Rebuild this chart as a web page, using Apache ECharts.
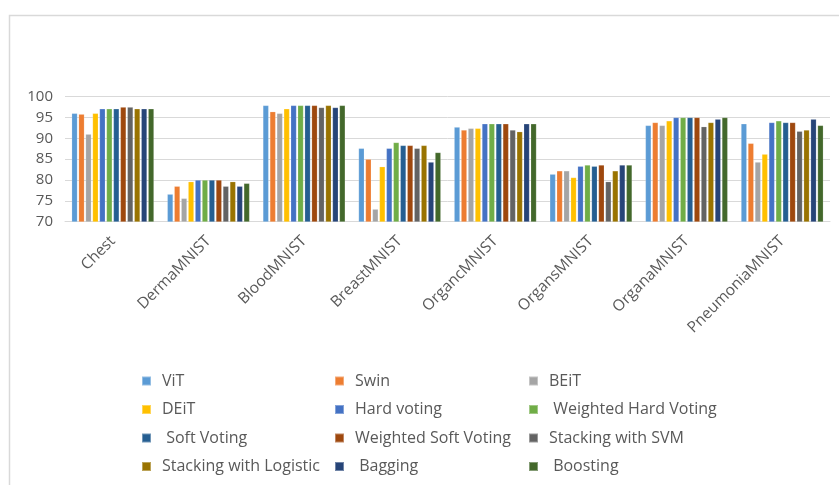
<!DOCTYPE html>
<html>
<head>
<meta charset="utf-8">
<script src="https://cdn.jsdelivr.net/npm/echarts@6/dist/echarts.min.js"></script>
<style>
  html, body { margin: 0; padding: 0; background: #fff; }
  #chart { width: 839px; height: 485px; }
</style>
</head>
<body>
<div id="chart"></div>
<script>
// Datasets on the x axis
const categories = ['Chest', 'DermaMNIST', 'BloodMNIST', 'BreastMNIST', 'OrgancMNIST', 'OrgansMNIST', 'OrganaMNIST', 'PneumoniaMNIST'];

// Accuracy (%) per model, one value per dataset
const vit        = [96.0, 76.6, 97.9, 87.6, 92.7, 81.4, 93.1, 93.5];
const swin       = [95.8, 78.5, 96.4, 85.0, 92.0, 82.2, 93.8, 88.8];
const beit       = [91.0, 75.6, 96.0, 73.0, 92.4, 82.2, 93.1, 84.3];
const deit       = [96.0, 79.6, 97.1, 83.2, 92.4, 80.6, 94.2, 86.2];
const hardVoting = [97.1, 80.0, 97.9, 87.6, 93.5, 83.3, 95.0, 93.8];
const wHardVoting= [97.1, 80.0, 97.9, 89.0, 93.5, 83.6, 95.0, 94.2];
const softVoting = [97.1, 80.0, 97.9, 88.3, 93.5, 83.3, 95.0, 93.8];
const wSoftVoting= [97.5, 80.0, 97.9, 88.3, 93.5, 83.6, 95.0, 93.8];
const stackSVM   = [97.5, 78.5, 97.4, 87.6, 92.0, 79.6, 92.8, 91.7];
const stackLogit = [97.1, 79.6, 97.9, 88.3, 91.6, 82.2, 93.8, 92.0];
const bagging    = [97.1, 78.5, 97.4, 84.3, 93.5, 83.6, 94.6, 94.6];
const boosting   = [97.1, 79.2, 97.9, 86.6, 93.5, 83.6, 95.0, 93.1];

// Y axis ticks
const yMin = 70, yMax = 100, yStep = 5;

const seriesDefs = [
  { name: 'ViT',                     data: vit,         color: '#5B9BD5' },
  { name: 'Swin',                    data: swin,        color: '#ED7D31' },
  { name: 'BEiT',                    data: beit,        color: '#A5A5A5' },
  { name: 'DEiT',                    data: deit,        color: '#FFC000' },
  { name: 'Hard voting',             data: hardVoting,  color: '#4472C4' },
  { name: ' Weighted Hard Voting',   data: wHardVoting, color: '#70AD47' },
  { name: ' Soft Voting',            data: softVoting,  color: '#255E91' },
  { name: 'Weighted Soft Voting',    data: wSoftVoting, color: '#9E480E' },
  { name: 'Stacking with SVM',       data: stackSVM,    color: '#636363' },
  { name: 'Stacking with Logistic',  data: stackLogit,  color: '#997300' },
  { name: ' Bagging',                data: bagging,     color: '#264478' },
  { name: ' Boosting',               data: boosting,    color: '#43682B' }
];

const textColor = '#595959';
const fontFamily = '"Open Sans", "Noto Sans", sans-serif';

// Legend laid out as three columns of four entries
const legendCols = [0, 1, 2].map(c => seriesDefs.filter((_, i) => i % 3 === c).map(s => s.name));
const legendLeft = [141, 334, 528];
const legends = legendCols.map((names, c) => ({
  data: names,
  orient: 'vertical',
  left: legendLeft[c],
  top: 372,
  itemWidth: 9,
  itemHeight: 9,
  itemGap: 10.5,
  icon: 'rect',
  padding: 0,
  textStyle: { color: textColor, fontSize: 16, fontFamily: fontFamily, lineHeight: 18, padding: [0, 0, 0, 6] }
}));

const chart = echarts.init(document.getElementById('chart'), null, { renderer: 'canvas' });

chart.setOption({
  animation: false,
  backgroundColor: '#ffffff',
  color: seriesDefs.map(s => s.color),
  graphic: [{
    type: 'polyline',
    shape: { points: [[9.5, 485], [9.5, 15.5], [839, 15.5]] },
    style: { stroke: '#D9D9D9', lineWidth: 1.5, fill: null },
    silent: true
  }],
  grid: { left: 65, right: 9, top: 96.7, bottom: 263.3, containLabel: false },
  legend: legends,
  xAxis: {
    type: 'category',
    data: categories,
    axisLine: { show: true, lineStyle: { color: '#D9D9D9', width: 1 } },
    axisTick: { show: false },
    axisLabel: {
      rotate: 45,
      interval: 0,
      margin: 17,
      color: textColor,
      fontSize: 15.5,
      fontFamily: fontFamily
    }
  },
  yAxis: {
    type: 'value',
    min: yMin,
    max: yMax,
    interval: yStep,
    axisLine: { show: false },
    axisTick: { show: false },
    splitLine: { lineStyle: { color: '#D9D9D9', width: 1 } },
    axisLabel: { color: textColor, fontSize: 15, fontFamily: fontFamily, margin: 12 }
  },
  series: seriesDefs.map(s => ({
    name: s.name,
    type: 'bar',
    data: s.data,
    barGap: '22%',
    barCategoryGap: '14%',
    itemStyle: { color: s.color, borderColor: 'rgba(255,255,255,0.35)', borderWidth: 0.5 }
  }))
});
</script>
</body>
</html>
